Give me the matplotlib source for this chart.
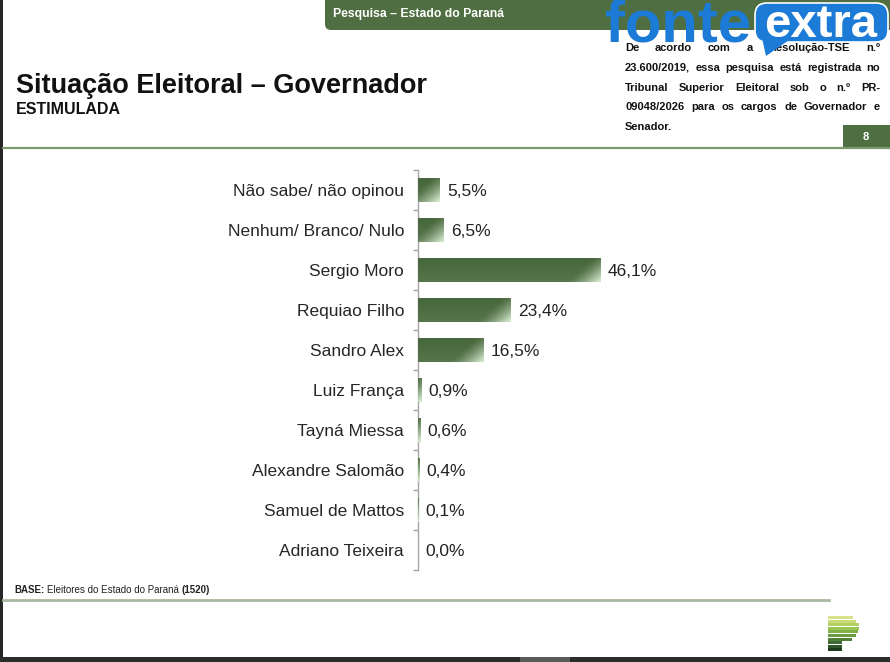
import matplotlib.pyplot as plt
import numpy as np
from matplotlib.patches import Rectangle, FancyBboxPatch, Polygon
from matplotlib.colors import to_rgb

plt.rcParams['font.family'] = ['Liberation Sans', 'DejaVu Sans']

categorias = ['Não sabe/ não opinou', 'Nenhum/ Branco/ Nulo', 'Sergio Moro',
              'Requiao Filho', 'Sandro Alex', 'Luiz França', 'Tayná Miessa',
              'Alexandre Salomão', 'Samuel de Mattos', 'Adriano Teixeira']
valores = [5.5, 6.5, 46.1, 23.4, 16.5, 0.9, 0.6, 0.4, 0.1, 0.0]
rotulos = [f'{v:.1f}%'.replace('.', ',') for v in valores]

legal = ['De acordo com a Resolução-TSE n.º',
         '23.600/2019, essa pesquisa está registrada no',
         'Tribunal Superior Eleitoral sob o n.º PR-',
         '09048/2026 para os cargos de Governador e',
         'Senador.']

verde = '#4f6f42'
verde_barra = '#46663b'
azul = '#1b7bd6'

W, H = 890, 662
fig = plt.figure(figsize=(W / 100, H / 100), dpi=100)
fig.patch.set_facecolor('white')

# fundo em coordenadas de pixel
bg = fig.add_axes([0, 0, 1, 1])
bg.set_xlim(0, W)
bg.set_ylim(H, 0)
bg.axis('off')

# cabecalho
bg.add_patch(FancyBboxPatch((325, -20), 620, 50, boxstyle='round,pad=0,rounding_size=6',
                            fc=verde, ec='none'))
bg.text(333, 14, 'Pesquisa – Estado do Paraná', color='white', fontsize=8.8,
        weight='bold', va='center')

bg.text(16, 93, 'Situação Eleitoral – Governador', fontsize=19.5, weight='bold',
        va='baseline', color='#111111')
bg.text(16, 114, 'ESTIMULADA', fontsize=11.5, weight='bold', va='baseline',
        color='#111111')

# texto legal justificado
rend = fig.canvas.get_renderer()
x0, x1 = 625, 880
for k, linha in enumerate(legal):
    y = 51 + k * 19.8
    palavras = linha.split()
    arts = [bg.text(0, y, p, fontsize=8, weight='bold', va='baseline', color='#111111')
            for p in palavras]
    larg = [a.get_window_extent(rend).width for a in arts]
    if k == len(legal) - 1 or len(palavras) == 1:
        gap = 3.2
    else:
        gap = (x1 - x0 - sum(larg)) / (len(palavras) - 1)
    x = x0
    for a, w in zip(arts, larg):
        a.set_x(x)
        x += w + gap

bg.add_patch(Rectangle((843, 125), 47, 22, fc=verde, ec='none'))
bg.text(866, 136.5, '8', color='white', fontsize=8, weight='bold', ha='center', va='center')
bg.plot([3, W], [147.5, 147.5], color='#7b9a6b', lw=1.6)

# rodape
x = 14
for txt, wt in [('BASE:', 'bold'), ('Eleitores do Estado do Paraná', 'normal'), ('(1520)', 'bold')]:
    t = bg.text(x, 593, txt, fontsize=7, weight=wt, va='baseline', color='#222222')
    x += t.get_window_extent(rend).width + 2.6
bg.plot([3, 829], [600, 600], color='#a9b8a0', lw=2)

cores_logo = ['#d9e38c', '#c9dc78', '#b2d062', '#9ac453', '#82b149', '#6b9b41',
              '#507f39', '#3e6b33', '#2e5529', '#1e3b1e']
fim_logo = [853, 856, 859, 859, 858, 856, 852, 842, 842, 842]
for i, (c, f) in enumerate(zip(cores_logo, fim_logo)):
    bg.add_patch(Rectangle((828, 616 + i * 3.6), f - 828, 3.0, fc=c, ec='none'))

# bordas escuras da captura
bg.add_patch(Rectangle((0, 0), 3, H, fc='#262626', ec='none'))
bg.add_patch(Rectangle((0, 657), W, 5, fc='#2c2c2c', ec='none'))
bg.add_patch(Rectangle((520, 657), 50, 5, fc='#5a5a5a', ec='none'))

# marca d'agua
bg.text(605, 42, 'fonte', color=azul, fontsize=43, weight='bold', va='baseline', zorder=10)
bg.add_patch(FancyBboxPatch((755, 3), 133, 39, boxstyle='round,pad=0,rounding_size=12',
                            fc=azul, ec='white', lw=1.2, zorder=9))
bg.add_patch(Polygon([(762, 38), (792, 38), (766, 56)], closed=True, fc=azul, ec='none', zorder=9))
bg.text(821, 37, 'extra', color='white', fontsize=34, weight='bold', ha='center',
        va='baseline', zorder=11)

# grafico
ax_left, ax_right, ax_top, ax_bot = 418, 820, 170, 570
ax = fig.add_axes([ax_left / W, 1 - ax_bot / H, (ax_right - ax_left) / W, (ax_bot - ax_top) / H])
ax.set_facecolor('none')
n = len(categorias)
ypos = np.arange(n)[::-1]
xmax = (ax_right - ax_left) / 3.96
altura = 0.58

bars = ax.barh(ypos, valores, height=altura, color=verde_barra, edgecolor='none', zorder=2)

escuro = np.array(to_rgb(verde_barra))
claro = np.array(to_rgb('#d2e6cb'))
px_x = (ax_right - ax_left) / xmax
px_y = (ax_bot - ax_top) / n
for b, v, y in zip(bars, valores, ypos):
    if v <= 0:
        continue
    wp = v * px_x
    hp = altura * px_y
    u = np.linspace(0, wp, int(wp * 4) + 4)
    vb = np.linspace(0, hp, 96)
    d = (wp - u)[None, :] + 1.1 * vb[:, None]
    s = np.clip(1 - d / 34, 0, 1) ** 1.4 + 0.12 * (1 - vb[:, None] / hp)
    s = np.clip(s, 0, 1)
    img = escuro[None, None, :] * (1 - s[..., None]) + claro[None, None, :] * s[..., None]
    im = ax.imshow(img, extent=[0, v, y - altura / 2, y + altura / 2], origin='lower',
                   aspect='auto', interpolation='bilinear', zorder=3)
    im.set_clip_path(b)

for v, y, lbl in zip(valores, ypos, rotulos):
    ax.annotate(lbl, xy=(v, y), xytext=(5.2, 0), textcoords='offset points',
                ha='left', va='center_baseline', fontsize=12.5, color='#222222')

ax.set_xlim(0, xmax)
ax.set_ylim(-0.5, n - 0.5)
ax.set_yticks(ypos)
ax.set_yticklabels(categorias, fontsize=12.5, color='#262626')
ax.set_yticks(np.arange(-0.5, n, 1), minor=True)
ax.tick_params(axis='y', which='major', length=0, pad=10)
ax.tick_params(axis='y', which='minor', length=3.6, color='#a6a6a6', width=1,
               direction='out', left=True, right=False)
ax.set_xticks([])
for s in ['top', 'right', 'bottom']:
    ax.spines[s].set_visible(False)
ax.spines['left'].set_color('#a6a6a6')
ax.spines['left'].set_linewidth(1)

fig.savefig('out.png', dpi=100)
